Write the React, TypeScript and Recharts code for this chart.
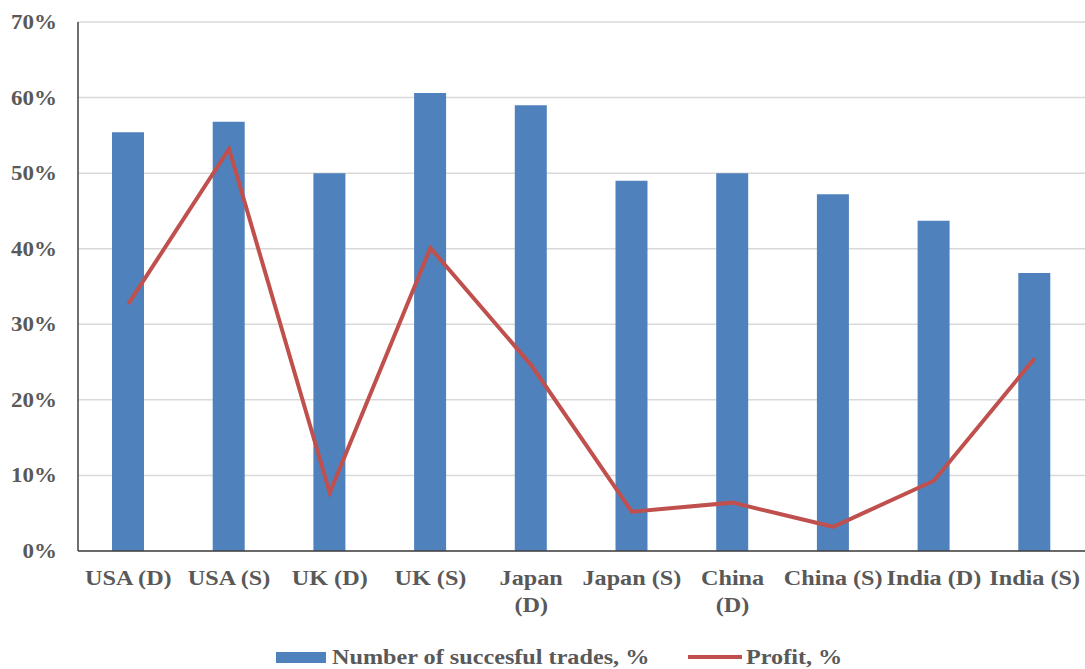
import React from "react"
import { ComposedChart, Bar, Line, XAxis, YAxis, CartesianGrid, Legend } from "recharts"

const categories = [
  "USA (D)",
  "USA (S)",
  "UK (D)",
  "UK (S)",
  "Japan (D)",
  "Japan (S)",
  "China (D)",
  "China (S)",
  "India (D)",
  "India (S)",
]
const successfulTrades = [55.4, 56.8, 50.0, 60.6, 59.0, 49.0, 50.0, 47.2, 43.7, 36.8]
const profit = [32.7, 53.2, 7.7, 40.1, 24.6, 5.2, 6.4, 3.2, 9.3, 25.5]
const yTicks = [0, 10, 20, 30, 40, 50, 60, 70]

// labels that don't fit the band and break onto two lines
const wrappedLabels = new Set(["Japan (D)", "China (D)"])

const data = categories.map((name, i) => ({
  name,
  trades: successfulTrades[i],
  profit: profit[i],
}))

const FONT = "'Liberation Serif', 'Times New Roman', serif"
const TEXT = "#595959"
const BLUE = "#4f81bd"
const RED = "#c0504d"
// the serif labels are drawn a little wide
const STRETCH = 1.18

function CategoryTick({ x, y, payload }: any) {
  const label: string = payload.value
  const lines = wrappedLabels.has(label) ? label.split(" ") : [label]
  return (
    <g transform={`translate(${x},${y}) scale(${STRETCH},1)`}>
      <text x={0} y={26} textAnchor="middle" fill={TEXT} fontFamily={FONT} fontWeight="bold" fontSize={20.5}>
        {lines.map((line, i) => (
          <tspan key={i} x={0} dy={i === 0 ? 0 : 27}>
            {line}
          </tspan>
        ))}
      </text>
    </g>
  )
}

function ValueTick({ x, y, payload }: any) {
  return (
    <g transform={`translate(${x},${y}) scale(1.12,1)`}>
      <text x={0} y={7} textAnchor="end" fill={TEXT} fontFamily={FONT} fontWeight="bold" fontSize={20.5}>
        {`${payload.value}%`}
      </text>
    </g>
  )
}

function LegendContent() {
  const label: React.CSSProperties = {
    position: "absolute",
    top: 0,
    lineHeight: "24px",
    whiteSpace: "nowrap",
    transform: `scaleX(${STRETCH})`,
    transformOrigin: "left center",
  }
  return (
    <div style={{ position: "relative", width: 580, height: 24, fontFamily: FONT, fontWeight: "bold", fontSize: 20.5, color: TEXT }}>
      <span style={{ position: "absolute", left: 0, top: 7, width: 50, height: 11, background: BLUE }} />
      <span style={{ ...label, left: 56 }}>Number of succesful trades, %</span>
      <span style={{ position: "absolute", left: 412, top: 10, width: 54, height: 4, background: RED }} />
      <span style={{ ...label, left: 470 }}>Profit, %</span>
    </div>
  )
}

export default function App() {
  return (
    <div style={{ position: "absolute", left: 0, top: 0, background: "#fff" }}>
      <ComposedChart width={1085} height={669} data={data} margin={{ top: 22, right: 0, left: 0, bottom: 0 }}>
        <CartesianGrid vertical={false} stroke="#d9d9d9" strokeWidth={1.5} />
        <XAxis
          dataKey="name"
          height={94}
          stroke="#404040"
          strokeWidth={1.5}
          tickLine={false}
          tick={<CategoryTick />}
          interval={0}
        />
        <YAxis
          width={78}
          domain={[0, 70]}
          ticks={yTicks}
          stroke="#404040"
          strokeWidth={1.5}
          tickLine={false}
          tickSize={0}
          tickMargin={21}
          tick={<ValueTick />}
        />
        <Legend
          verticalAlign="bottom"
          content={<LegendContent />}
          wrapperStyle={{ left: 276, width: "auto" }}
        />
        <Bar dataKey="trades" fill={BLUE} barSize={32} isAnimationActive={false} />
        <Line
          dataKey="profit"
          type="linear"
          stroke={RED}
          strokeWidth={4}
          dot={false}
          activeDot={false}
          isAnimationActive={false}
        />
      </ComposedChart>
    </div>
  )
}
